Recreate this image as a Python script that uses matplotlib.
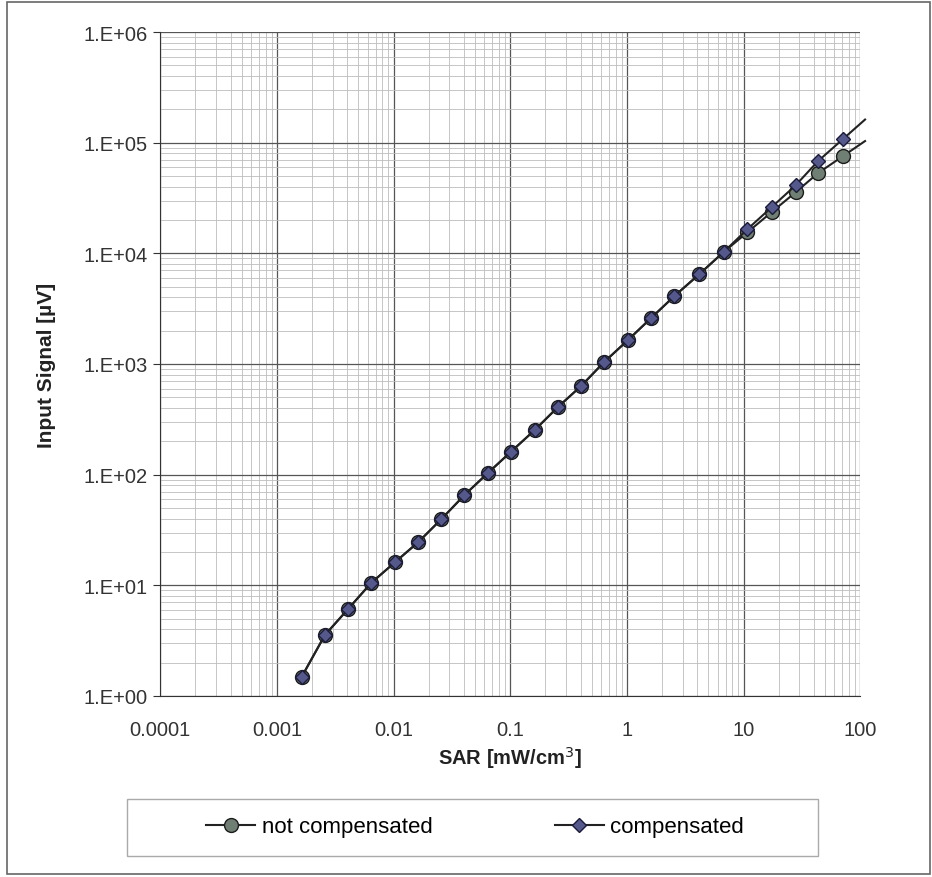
import matplotlib.pyplot as plt
from matplotlib.patches import Rectangle
from matplotlib.ticker import FixedLocator, FuncFormatter, LogLocator, NullFormatter
import numpy as np

# SAR values [mW/cm3]
sar = [0.00163, 0.00258, 0.00407, 0.00642, 0.0103, 0.0163, 0.0257, 0.0405,
       0.064, 0.1007, 0.162, 0.256, 0.404, 0.637, 1.02, 1.61, 2.55, 4.18,
       6.73, 10.8, 17.4, 28.0, 43.4, 71.0]

# input signal [uV]
not_compensated = [1.49, 3.56, 6.1, 10.5, 16.2, 24.6, 39.7, 65.4, 103, 160,
                   253, 408, 631, 1040, 1644, 2600, 4105, 6490, 10250, 15500,
                   23570, 35700, 53000, 75500]
compensated = [1.49, 3.56, 6.1, 10.5, 16.2, 24.6, 39.7, 65.4, 103, 160,
               253, 408, 631, 1040, 1644, 2600, 4105, 6490, 10250, 16550,
               26100, 41300, 68000, 107600]

x_ticks = [0.0001, 0.001, 0.01, 0.1, 1, 10, 100]
x_labels = ['0.0001', '0.001', '0.01', '0.1', '1', '10', '100']

plt.rcParams['font.family'] = ['Liberation Sans', 'DejaVu Sans']

fig = plt.figure(figsize=(9.32, 8.78), dpi=100)
ax = fig.add_axes([0.172, 0.2062, 0.751, 0.7562])

# extend each series to the right edge along the slope of its last segment
def extend(x, y, x_end=110):
    slope = np.log(y[-1] / y[-2]) / np.log(x[-1] / x[-2])
    return [x[-1], x_end], [y[-1], y[-1] * (x_end / x[-1]) ** slope]

ex, ey = extend(sar, not_compensated)
ax.plot(ex, ey, color='#222222', lw=1.5, clip_on=False)
ex, ey = extend(sar, compensated)
ax.plot(ex, ey, color='#222222', lw=1.5, clip_on=False)

ax.plot(sar, not_compensated, color='#222222', lw=1.5, marker='o',
        markersize=10, markerfacecolor='#6f7f74', markeredgecolor='#1c1c1c',
        label='not compensated')
ax.plot(sar, compensated, color='#222222', lw=1.5, marker='D',
        markersize=7.5, markerfacecolor='#55588a', markeredgecolor='#1a1a3a',
        label='compensated')

ax.set_xscale('log')
ax.set_yscale('log')
ax.set_xlim(0.0001, 100)
ax.set_ylim(1, 1e6)

ax.xaxis.set_major_locator(FixedLocator(x_ticks))
ax.xaxis.set_major_formatter(FuncFormatter(lambda v, p: x_labels[x_ticks.index(v)] if v in x_ticks else ''))
ax.xaxis.set_minor_locator(LogLocator(base=10, subs=np.arange(2, 10)))
ax.xaxis.set_minor_formatter(NullFormatter())
ax.yaxis.set_major_locator(LogLocator(base=10, numticks=10))
ax.yaxis.set_major_formatter(FuncFormatter(lambda v, p: '1.E+%02d' % round(np.log10(v))))
ax.yaxis.set_minor_locator(LogLocator(base=10, subs=np.arange(2, 10)))
ax.yaxis.set_minor_formatter(NullFormatter())

ax.grid(True, which='major', color='#555555', lw=0.9)
ax.grid(True, which='minor', color='#bdbdbd', lw=0.6)
ax.set_axisbelow(True)

for s in ['top', 'right']:
    ax.spines[s].set_visible(False)
ax.spines['left'].set_color('#333333')
ax.spines['bottom'].set_color('#333333')

ax.tick_params(axis='both', which='major', labelsize=14.5, colors='#333333', length=5, pad=4)
ax.tick_params(axis='x', which='major', length=0, pad=17)
ax.tick_params(axis='both', which='minor', length=0)

ax.set_xlabel('SAR [mW/cm$^3$]', fontsize=14.5, fontweight='bold', color='#222222', labelpad=4)
ax.set_ylabel('Input Signal [µV]', fontsize=15, fontweight='bold', color='#222222', labelpad=20)

leg = fig.legend(loc='center', bbox_to_anchor=(0.51, 0.057), ncol=2, frameon=False,
                 fontsize=16, handlelength=2.2, handletextpad=0.3, columnspacing=5.5)

# legend box and outer chart frame
fig.patches.append(Rectangle((127 / 932, 1 - 857 / 878), 691 / 932, 57 / 878,
                             transform=fig.transFigure, fill=False,
                             edgecolor='#aaaaaa', lw=1.0))
fig.patches.append(Rectangle((0.008, 0.003), 0.99, 0.994, transform=fig.transFigure,
                             fill=False, edgecolor='#666666', lw=1.2))

fig.savefig('out.png', dpi=100)
